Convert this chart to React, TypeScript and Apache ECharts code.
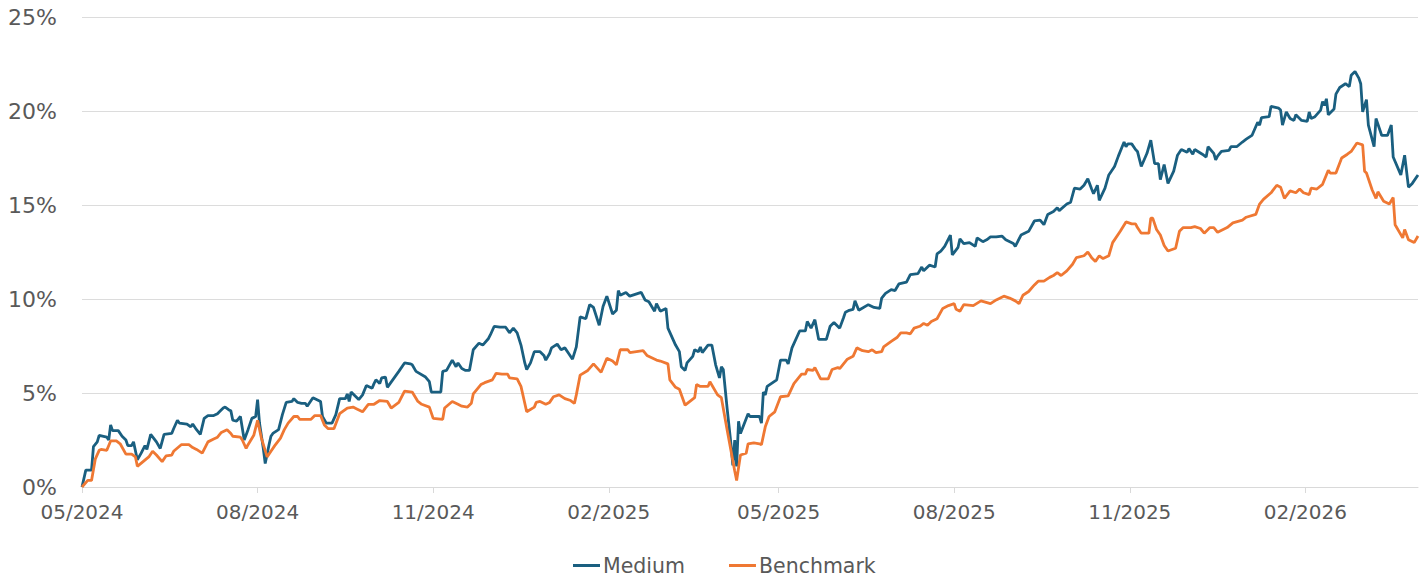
import React, { useEffect, useRef } from "react";
import * as echarts from "echarts";

const seriesNames = ["Medium", "Benchmark"];
const tickMonths = ["2024-05-01", "2024-08-01", "2024-11-01", "2025-02-01", "2025-05-01", "2025-08-01", "2025-11-01", "2026-02-01"];
const yTicks = [0, 5, 10, 15, 20, 25];

const mediumDates = [
  "2024-05-01","2024-05-03","2024-05-06","2024-05-07","2024-05-09","2024-05-10","2024-05-14","2024-05-15","2024-05-16","2024-05-17",
  "2024-05-20","2024-05-22","2024-05-24","2024-05-25","2024-05-27","2024-05-28","2024-05-30","2024-06-01","2024-06-03","2024-06-04",
  "2024-06-06","2024-06-09","2024-06-11","2024-06-13","2024-06-17","2024-06-18","2024-06-20","2024-06-21","2024-06-25","2024-06-27",
  "2024-06-28","2024-06-30","2024-07-02","2024-07-04","2024-07-06","2024-07-09","2024-07-11","2024-07-12","2024-07-14","2024-07-15",
  "2024-07-17","2024-07-18","2024-07-19","2024-07-21","2024-07-23","2024-07-25","2024-07-27","2024-07-29","2024-07-31","2024-08-01",
  "2024-08-02","2024-08-04","2024-08-05","2024-08-07","2024-08-08","2024-08-09","2024-08-12","2024-08-14","2024-08-16","2024-08-19",
  "2024-08-20","2024-08-22","2024-08-24","2024-08-26","2024-08-27","2024-08-30","2024-09-03","2024-09-04","2024-09-06","2024-09-09",
  "2024-09-11","2024-09-13","2024-09-16","2024-09-17","2024-09-18","2024-09-19","2024-09-23","2024-09-25","2024-09-27","2024-09-30",
  "2024-10-01","2024-10-02","2024-10-04","2024-10-05","2024-10-07","2024-10-08","2024-10-14","2024-10-17","2024-10-20","2024-10-21",
  "2024-10-23","2024-10-28","2024-10-30","2024-10-31","2024-11-05","2024-11-06","2024-11-08","2024-11-11","2024-11-13","2024-11-14",
  "2024-11-16","2024-11-18","2024-11-20","2024-11-22","2024-11-25","2024-11-27","2024-11-30","2024-12-01","2024-12-03","2024-12-06",
  "2024-12-09","2024-12-11","2024-12-13","2024-12-15","2024-12-17","2024-12-19","2024-12-20","2024-12-22","2024-12-24","2024-12-27",
  "2024-12-29","2024-12-30","2025-01-01","2025-01-02","2025-01-05","2025-01-07","2025-01-09","2025-01-11","2025-01-13","2025-01-15",
  "2025-01-17","2025-01-20","2025-01-22","2025-01-24","2025-01-27","2025-01-29","2025-01-31","2025-02-03","2025-02-05","2025-02-06",
  "2025-02-07","2025-02-10","2025-02-12","2025-02-18","2025-02-20","2025-02-22","2025-02-25","2025-02-26","2025-02-28","2025-03-03",
  "2025-03-04","2025-03-08","2025-03-10","2025-03-11","2025-03-13","2025-03-14","2025-03-17","2025-03-18","2025-03-20","2025-03-21",
  "2025-03-22","2025-03-25","2025-03-27","2025-03-29","2025-03-31","2025-04-01","2025-04-02","2025-04-04","2025-04-06","2025-04-07",
  "2025-04-08","2025-04-09","2025-04-10","2025-04-11","2025-04-15","2025-04-16","2025-04-21","2025-04-22","2025-04-23","2025-04-24",
  "2025-04-25","2025-04-30","2025-05-02","2025-05-05","2025-05-06","2025-05-08","2025-05-12","2025-05-15","2025-05-16","2025-05-18",
  "2025-05-20","2025-05-22","2025-05-26","2025-05-28","2025-05-30","2025-06-02","2025-06-04","2025-06-05","2025-06-07","2025-06-09",
  "2025-06-10","2025-06-12","2025-06-17","2025-06-20","2025-06-23","2025-06-24","2025-06-26","2025-06-29","2025-07-01","2025-07-03",
  "2025-07-07","2025-07-09","2025-07-13","2025-07-15","2025-07-16","2025-07-19","2025-07-22","2025-07-23","2025-07-25","2025-07-27",
  "2025-07-29","2025-07-30","2025-07-31","2025-08-03","2025-08-04","2025-08-06","2025-08-09","2025-08-12","2025-08-13","2025-08-16",
  "2025-08-18","2025-08-20","2025-08-23","2025-08-26","2025-08-28","2025-09-01","2025-09-02","2025-09-05","2025-09-09","2025-09-12",
  "2025-09-15","2025-09-17","2025-09-19","2025-09-22","2025-09-24","2025-09-25","2025-09-29","2025-10-01","2025-10-03","2025-10-06",
  "2025-10-08","2025-10-10","2025-10-12","2025-10-13","2025-10-15","2025-10-16","2025-10-19","2025-10-21","2025-10-24","2025-10-26",
  "2025-10-29","2025-10-30","2025-10-31","2025-11-02","2025-11-04","2025-11-05","2025-11-07","2025-11-10","2025-11-12","2025-11-14",
  "2025-11-16","2025-11-17","2025-11-19","2025-11-21","2025-11-24","2025-11-26","2025-11-28","2025-12-01","2025-12-02","2025-12-04",
  "2025-12-05","2025-12-09","2025-12-11","2025-12-12","2025-12-15","2025-12-16","2025-12-17","2025-12-19","2025-12-23","2025-12-24",
  "2025-12-27","2025-12-30","2026-01-01","2026-01-04","2026-01-07","2026-01-08","2026-01-09","2026-01-13","2026-01-14","2026-01-18",
  "2026-01-19","2026-01-20","2026-01-22","2026-01-24","2026-01-26","2026-01-27","2026-01-30","2026-02-02","2026-02-03","2026-02-04",
  "2026-02-06","2026-02-09","2026-02-10","2026-02-11","2026-02-12","2026-02-13","2026-02-16","2026-02-17","2026-02-19","2026-02-22",
  "2026-02-24","2026-02-25","2026-02-27","2026-03-01","2026-03-02","2026-03-03","2026-03-05","2026-03-06","2026-03-09","2026-03-10",
  "2026-03-13","2026-03-16","2026-03-18","2026-03-19","2026-03-23","2026-03-25","2026-03-27","2026-03-29","2026-04-01"
];
const mediumValues = [
  0.0,0.9,0.9,2.15,2.4,2.75,2.65,2.5,3.3,3.0,
  3.0,2.7,2.5,2.2,2.2,2.4,1.45,1.8,2.2,2.0,
  2.8,2.4,2.05,2.8,2.85,3.1,3.55,3.4,3.35,3.2,
  3.35,3.05,2.8,3.65,3.8,3.8,3.9,4.0,4.2,4.25,
  4.1,4.05,3.55,3.5,3.75,2.5,3.05,3.65,3.75,4.65,
  3.4,2.05,1.25,2.25,2.7,2.85,3.05,3.85,4.5,4.55,
  4.7,4.5,4.45,4.45,4.3,4.75,4.55,3.75,3.4,3.4,
  3.85,4.7,4.7,4.95,4.55,5.05,4.65,4.9,5.4,5.25,
  5.5,5.7,5.5,5.8,5.85,5.3,6.15,6.6,6.55,6.5,
  6.15,5.85,5.6,5.05,5.05,6.15,6.2,6.75,6.4,6.6,
  6.3,6.2,6.2,7.3,7.65,7.55,7.9,8.1,8.55,8.5,
  8.5,8.2,8.45,8.2,7.55,6.6,6.25,6.6,7.2,7.2,
  7.0,6.75,7.1,7.4,7.6,7.3,7.4,7.1,6.8,7.45,
  9.05,8.95,9.7,9.55,8.6,9.6,10.15,9.2,9.4,10.45,
  10.2,10.35,10.15,10.35,9.95,9.85,9.35,9.75,9.35,9.5,
  8.45,7.55,7.2,6.4,6.2,6.6,6.95,7.3,7.2,7.45,
  7.15,7.55,7.55,6.5,5.8,6.4,6.25,4.2,2.3,1.15,
  2.5,1.1,3.5,2.85,3.9,3.75,3.75,3.4,5.05,4.9,
  5.35,5.7,6.75,6.75,6.55,7.4,8.3,8.3,8.8,8.45,
  8.9,7.85,7.85,8.55,8.75,8.45,9.0,9.3,9.4,9.45,
  9.9,9.4,9.7,9.55,9.5,10.05,10.3,10.5,10.45,10.8,
  10.9,11.3,11.35,11.7,11.5,11.8,11.7,12.4,12.55,12.8,
  13.2,13.4,12.35,12.75,13.2,12.95,13.0,12.8,13.25,13.05,
  13.15,13.3,13.3,13.35,13.15,12.95,12.8,13.4,13.6,14.15,
  14.2,13.95,14.5,14.65,14.85,14.7,15.05,15.15,15.9,15.85,
  16.05,16.4,15.85,15.6,16.05,15.25,15.9,16.6,17.05,17.6,
  18.35,18.1,18.25,18.25,17.95,17.85,17.05,17.75,18.45,17.2,
  17.2,16.35,17.15,16.15,16.8,17.65,17.95,17.8,18.0,17.7,
  17.95,17.7,17.55,18.1,17.75,17.4,17.6,17.85,17.9,18.1,
  18.1,18.35,18.5,18.7,19.4,19.25,19.65,19.7,20.25,20.15,
  20.05,19.25,19.95,19.6,19.5,19.8,19.5,19.45,19.95,19.6,
  19.7,20.05,20.5,20.3,20.65,19.8,20.1,20.9,21.25,21.45,
  21.3,21.9,22.1,21.75,21.45,19.95,20.6,19.25,18.1,19.6,
  18.7,18.7,19.25,17.55,16.6,17.65,15.95,16.15,16.6
];

const benchmarkDates = [
  "2024-05-01","2024-05-04","2024-05-06","2024-05-08","2024-05-10","2024-05-11","2024-05-14","2024-05-16","2024-05-19","2024-05-21",
  "2024-05-24","2024-05-27","2024-05-29","2024-05-30","2024-06-02","2024-06-05","2024-06-07","2024-06-09","2024-06-12","2024-06-14",
  "2024-06-17","2024-06-18","2024-06-22","2024-06-26","2024-06-28","2024-06-30","2024-07-03","2024-07-06","2024-07-09","2024-07-11",
  "2024-07-13","2024-07-16","2024-07-18","2024-07-19","2024-07-23","2024-07-24","2024-07-26","2024-07-27","2024-07-30","2024-08-01",
  "2024-08-03","2024-08-06","2024-08-08","2024-08-10","2024-08-13","2024-08-15","2024-08-17","2024-08-20","2024-08-22","2024-08-23",
  "2024-08-29","2024-08-31","2024-09-03","2024-09-05","2024-09-07","2024-09-10","2024-09-13","2024-09-17","2024-09-20","2024-09-22",
  "2024-09-25","2024-09-28","2024-10-01","2024-10-04","2024-10-08","2024-10-10","2024-10-14","2024-10-17","2024-10-21","2024-10-24",
  "2024-10-26","2024-10-30","2024-11-01","2024-11-06","2024-11-07","2024-11-11","2024-11-14","2024-11-16","2024-11-19","2024-11-21",
  "2024-11-22","2024-11-26","2024-11-28","2024-12-02","2024-12-04","2024-12-07","2024-12-10","2024-12-11","2024-12-15","2024-12-17",
  "2024-12-20","2024-12-24","2024-12-25","2024-12-27","2024-12-30","2025-01-01","2025-01-03","2025-01-06","2025-01-09","2025-01-12",
  "2025-01-14","2025-01-15","2025-01-17","2025-01-21","2025-01-24","2025-01-28","2025-01-31","2025-02-03","2025-02-05","2025-02-07",
  "2025-02-11","2025-02-12","2025-02-19","2025-02-21","2025-02-26","2025-02-28","2025-03-04","2025-03-05","2025-03-08","2025-03-10",
  "2025-03-13","2025-03-18","2025-03-19","2025-03-21","2025-03-25","2025-03-26","2025-03-30","2025-04-01","2025-04-04","2025-04-08",
  "2025-04-09","2025-04-11","2025-04-14","2025-04-15","2025-04-18","2025-04-21","2025-04-22","2025-04-24","2025-04-26","2025-04-29",
  "2025-05-02","2025-05-06","2025-05-09","2025-05-13","2025-05-15","2025-05-16","2025-05-19","2025-05-20","2025-05-23","2025-05-27",
  "2025-05-29","2025-06-01","2025-06-02","2025-06-06","2025-06-09","2025-06-11","2025-06-14","2025-06-17","2025-06-19","2025-06-21",
  "2025-06-24","2025-06-25","2025-06-29","2025-07-02","2025-07-04","2025-07-07","2025-07-09","2025-07-11","2025-07-14","2025-07-16",
  "2025-07-18","2025-07-20","2025-07-23","2025-07-26","2025-07-29","2025-08-01","2025-08-02","2025-08-04","2025-08-06","2025-08-11",
  "2025-08-15","2025-08-20","2025-08-23","2025-08-27","2025-08-30","2025-09-02","2025-09-04","2025-09-06","2025-09-09","2025-09-12",
  "2025-09-14","2025-09-17","2025-09-20","2025-09-22","2025-09-24","2025-09-26","2025-09-29","2025-10-02","2025-10-04","2025-10-08",
  "2025-10-10","2025-10-12","2025-10-14","2025-10-16","2025-10-18","2025-10-21","2025-10-23","2025-10-27","2025-10-30","2025-11-02",
  "2025-11-04","2025-11-05","2025-11-07","2025-11-11","2025-11-12","2025-11-13","2025-11-15","2025-11-17","2025-11-19","2025-11-21",
  "2025-11-25","2025-11-27","2025-11-29","2025-12-03","2025-12-05","2025-12-08","2025-12-10","2025-12-13","2025-12-15","2025-12-17",
  "2025-12-22","2025-12-25","2025-12-30","2026-01-01","2026-01-06","2026-01-08","2026-01-10","2026-01-14","2026-01-17","2026-01-19",
  "2026-01-21","2026-01-24","2026-01-27","2026-01-29","2026-01-31","2026-02-03","2026-02-04","2026-02-07","2026-02-10","2026-02-13",
  "2026-02-14","2026-02-17","2026-02-20","2026-02-23","2026-02-25","2026-02-28","2026-03-03","2026-03-04","2026-03-05","2026-03-08",
  "2026-03-10","2026-03-11","2026-03-14","2026-03-17","2026-03-19","2026-03-20","2026-03-24","2026-03-25","2026-03-27","2026-03-30",
  "2026-04-01"
];
const benchmarkValues = [
  0.0,0.35,0.35,1.5,1.95,2.0,1.95,2.45,2.45,2.3,
  1.75,1.75,1.6,1.1,1.35,1.6,1.9,1.7,1.35,1.65,
  1.7,1.9,2.25,2.25,2.1,2.0,1.8,2.4,2.55,2.65,
  2.9,3.05,2.85,2.7,2.65,2.5,2.05,2.25,2.75,3.55,
  2.6,1.6,1.9,2.2,2.6,3.05,3.4,3.75,3.75,3.6,
  3.6,3.8,3.8,3.3,3.1,3.1,3.9,4.2,4.25,4.15,
  4.0,4.4,4.4,4.6,4.55,4.2,4.5,5.1,5.05,4.55,
  4.4,4.25,3.65,3.6,4.2,4.55,4.4,4.3,4.25,4.45,
  4.95,5.45,5.55,5.7,6.05,6.0,6.0,5.8,5.75,5.35,
  4.0,4.25,4.5,4.55,4.4,4.5,4.8,4.9,4.7,4.6,
  4.45,4.9,5.95,6.2,6.55,6.1,6.85,6.7,6.5,7.3,
  7.3,7.15,7.25,7.0,6.75,6.7,6.55,5.7,5.3,5.2,
  4.35,4.75,5.45,5.35,5.35,5.6,4.9,4.75,3.05,0.85,
  0.35,1.7,1.8,2.3,2.35,2.3,2.25,3.2,3.75,4.0,
  4.8,4.85,5.5,6.0,6.0,6.25,6.2,6.35,5.75,5.75,
  6.25,6.35,6.3,6.8,6.95,7.4,7.25,7.2,7.3,7.15,
  7.2,7.45,7.75,7.95,8.2,8.2,8.15,8.45,8.55,8.7,
  8.6,8.8,8.95,9.5,9.65,9.75,9.45,9.35,9.7,9.65,
  9.9,9.75,9.95,10.15,10.05,9.9,9.75,10.2,10.4,10.75,
  10.95,10.95,11.15,11.25,11.4,11.25,11.5,11.85,12.2,12.3,
  12.5,12.2,12.0,12.3,12.15,12.3,13.0,13.6,14.1,14.0,
  14.0,13.8,13.5,13.5,14.3,14.3,13.7,13.4,12.85,12.55,
  12.7,13.6,13.8,13.8,13.85,13.75,13.5,13.8,13.8,13.55,
  13.8,14.05,14.2,14.35,14.5,15.05,15.3,15.65,16.05,15.95,
  15.35,15.75,15.65,15.85,15.65,15.55,15.9,15.85,16.1,16.85,
  16.7,16.7,17.5,17.7,17.85,18.3,18.2,16.8,16.7,15.8,
  15.35,15.7,15.2,15.05,15.4,13.95,13.25,13.7,13.15,13.0,
  13.35
];

const toTs = (s: string) => {
  const [y, m, d] = s.split("-").map(Number);
  return new Date(y, m - 1, d).getTime();
};

export default function App() {
  const ref = useRef<HTMLDivElement>(null);
  useEffect(() => {
    if (!ref.current) return;
    const chart = echarts.init(ref.current, null, { renderer: "svg" });
    const font = "DejaVu Sans";
    const textColor = "#595959";
    const tickTs = tickMonths.map(toTs);
    chart.setOption({
      animation: false,
      color: ["#1a5f80", "#ef7833"],
      grid: { left: 82, right: 8, top: 17, bottom: 90, containLabel: false },
      legend: {
        top: 550,
        left: 568,
        data: seriesNames,
        icon: "rect",
        itemWidth: 27,
        itemHeight: 3,
        itemGap: 44,
        textStyle: { fontFamily: font, fontSize: 20.5, color: textColor, padding: [0, 0, 0, -2] },
      },
      xAxis: {
        type: "value",
        min: toTs(mediumDates[0]),
        max: toTs(mediumDates[mediumDates.length - 1]),
        axisLine: { show: true, lineStyle: { color: "#d9d9d9", width: 1 } },
        axisTick: { show: true, customValues: tickTs, length: 6, lineStyle: { color: "#d9d9d9" } },
        axisLabel: {
          customValues: tickTs,
          fontFamily: font,
          fontSize: 20,
          color: textColor,
          margin: 15,
          formatter: (v: number) => {
            const d = new Date(v);
            const mm = String(d.getMonth() + 1).padStart(2, "0");
            return `${mm}/${d.getFullYear()}`;
          },
        },
        splitLine: { show: false },
      },
      yAxis: {
        type: "value",
        min: yTicks[0],
        max: yTicks[yTicks.length - 1],
        interval: 5,
        axisLine: { show: false },
        axisTick: { show: false },
        axisLabel: { fontFamily: font, fontSize: 22, color: textColor, margin: 25, formatter: "{value}%" },
        splitLine: { lineStyle: { color: "#dcdcdc", width: 1 } },
      },
      series: [
        {
          name: seriesNames[0],
          type: "line",
          symbol: "none",
          lineStyle: { width: 2.8 },
          data: mediumDates.map((d, i) => [toTs(d), mediumValues[i]]),
        },
        {
          name: seriesNames[1],
          type: "line",
          symbol: "none",
          lineStyle: { width: 2.8 },
          data: benchmarkDates.map((d, i) => [toTs(d), benchmarkValues[i]]),
        },
      ],
    });
    return () => chart.dispose();
  }, []);
  return <div ref={ref} style={{ position: "absolute", left: 0, top: 0, width: 1426, height: 577 }} />;
}
